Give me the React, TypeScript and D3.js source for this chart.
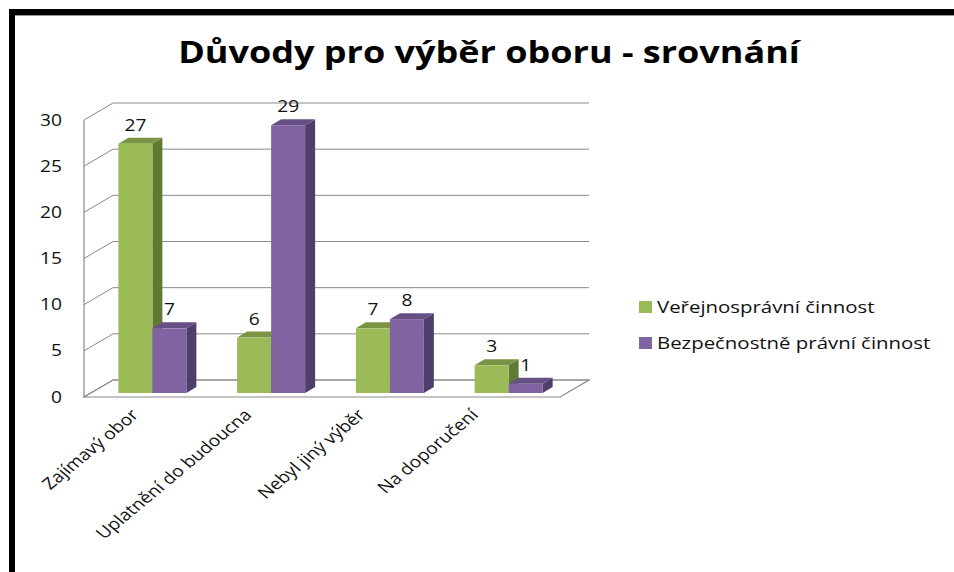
import * as d3 from "d3";

const categories = ["Zajímavý obor", "Uplatnění do budoucna", "Nebyl jiný výběr", "Na doporučení"];
const seriesNames = ["Veřejnosprávní činnost", "Bezpečnostně právní činnost"];
const verejnospravni = [27, 6, 7, 3];
const bezpecnostni = [7, 29, 8, 1];
const yTicks = [0, 5, 10, 15, 20, 25, 30];

const colors = [
  { front: "#9bbb59", top: "#7a9444", side: "#617a33" },
  { front: "#8064a2", top: "#664f85", side: "#4f3e6a" },
];

const font = "'Open Sans', 'Noto Sans', sans-serif";
// the source picture is stretched sideways, so its text is too
const stretch = 1.2;

export default function App() {
  const width = 954;
  const height = 572;

  // floor / walls
  const floorLeft = 84;
  const floorRight = 560;
  const depth = { x: 29, y: -17 };
  const yFront = d3.scaleLinear().domain([0, 30]).range([397, 120]);

  // bars sit a bit into the depth
  const barShift = { x: 7, y: -4 };
  const barDepth = { x: 10, y: -6 };
  const yBar = d3.scaleLinear().domain([0, 30]).range([397 + barShift.y, 120 + barShift.y]);

  const x0 = d3.scaleBand<string>().domain(categories).range([86, 561]);
  const x1 = d3.scaleBand<string>().domain(seriesNames).range([-34, 34]);
  const xLabel = d3.scaleBand<string>().domain(categories).range([83, 536]);

  const series = [verejnospravni, bezpecnostni];

  const grid = "#8a8a8a";
  const st = (x: number, y: number, extra = "") => `translate(${x},${y}) scale(${stretch},1)${extra}`;

  return (
    <svg width={width} height={height} style={{ position: "absolute", left: 0, top: 0, background: "#fff" }}>
      <rect x={0} y={0} width={width} height={height} fill="#fff" />
      {/* frame */}
      <rect x={9} y={9} width={width} height={6} fill="#000" />
      <line x1={15} x2={width} y1={15.5} y2={15.5} stroke="#999" strokeWidth={1} />
      <rect x={9} y={9} width={6} height={height} fill="#000" />

      <text
        transform={st(489, 63)}
        textAnchor="middle"
        fontFamily={font}
        fontWeight="bold"
        fontSize={30}
        fill="#000"
      >
        Důvody pro výběr oboru - srovnání
      </text>

      {/* back wall gridlines and left wall */}
      {yTicks.map((t) => (
        <g key={t}>
          <line
            x1={floorLeft + depth.x}
            x2={floorRight + depth.x}
            y1={yFront(t) + depth.y}
            y2={yFront(t) + depth.y}
            stroke={grid}
            strokeWidth={1}
          />
          <line
            x1={floorLeft}
            x2={floorLeft + depth.x}
            y1={yFront(t)}
            y2={yFront(t) + depth.y}
            stroke={grid}
            strokeWidth={1}
          />
          <text
            transform={st(62, yFront(t))}
            dy="0.35em"
            textAnchor="end"
            fontFamily={font}
            fontSize={16}
            fill="#111"
          >
            {t}
          </text>
        </g>
      ))}
      <line x1={floorLeft} x2={floorLeft} y1={yFront(30)} y2={yFront(0)} stroke={grid} strokeWidth={1.2} />
      <polygon
        points={[
          [floorLeft, yFront(0)],
          [floorRight, yFront(0)],
          [floorRight + depth.x, yFront(0) + depth.y],
          [floorLeft + depth.x, yFront(0) + depth.y],
        ]
          .map((p) => p.join(","))
          .join(" ")}
        fill="none"
        stroke={grid}
        strokeWidth={1.2}
      />

      {/* bars */}
      {categories.map((c, i) => {
        const cx = (x0(c) ?? 0) + x0.bandwidth() / 2 + barShift.x;
        return (
          <g key={c}>
            {seriesNames.map((s, j) => {
              const v = series[j][i];
              const xl = cx + (x1(s) ?? 0);
              const xr = xl + x1.bandwidth();
              const yt = yBar(v);
              const yb = yBar(0);
              const col = colors[j];
              const top = [
                [xl, yt],
                [xr, yt],
                [xr + barDepth.x, yt + barDepth.y],
                [xl + barDepth.x, yt + barDepth.y],
              ];
              const side = [
                [xr, yt],
                [xr + barDepth.x, yt + barDepth.y],
                [xr + barDepth.x, yb + barDepth.y],
                [xr, yb],
              ];
              return (
                <g key={s}>
                  <polygon points={side.map((p) => p.join(",")).join(" ")} fill={col.side} />
                  <polygon points={top.map((p) => p.join(",")).join(" ")} fill={col.top} />
                  <rect x={xl} y={yt} width={xr - xl} height={yb - yt} fill={col.front} />
                  <text
                    transform={st((xl + xr) / 2, yt - 13)}
                    textAnchor="middle"
                    fontFamily={font}
                    fontSize={16}
                    fill="#111"
                  >
                    {v}
                  </text>
                </g>
              );
            })}
          </g>
        );
      })}

      {/* category labels */}
      {categories.map((c) => {
        const lx = (xLabel(c) ?? 0) + xLabel.bandwidth() / 2;
        const ly = 416;
        return (
          <text
            key={c}
            transform={st(lx, ly, " rotate(-45)")}
            textAnchor="end"
            fontFamily={font}
            fontSize={16}
            fill="#111"
          >
            {c}
          </text>
        );
      })}

      {/* legend */}
      {seriesNames.map((s, j) => {
        const ly = 307 + j * 36;
        return (
          <g key={s}>
            <rect x={639} y={ly - 6} width={13} height={12} fill={colors[j].front} />
            <text transform={st(657, ly)} dy="0.35em" fontFamily={font} fontSize={17} fill="#111">
              {s}
            </text>
          </g>
        );
      })}
    </svg>
  );
}
